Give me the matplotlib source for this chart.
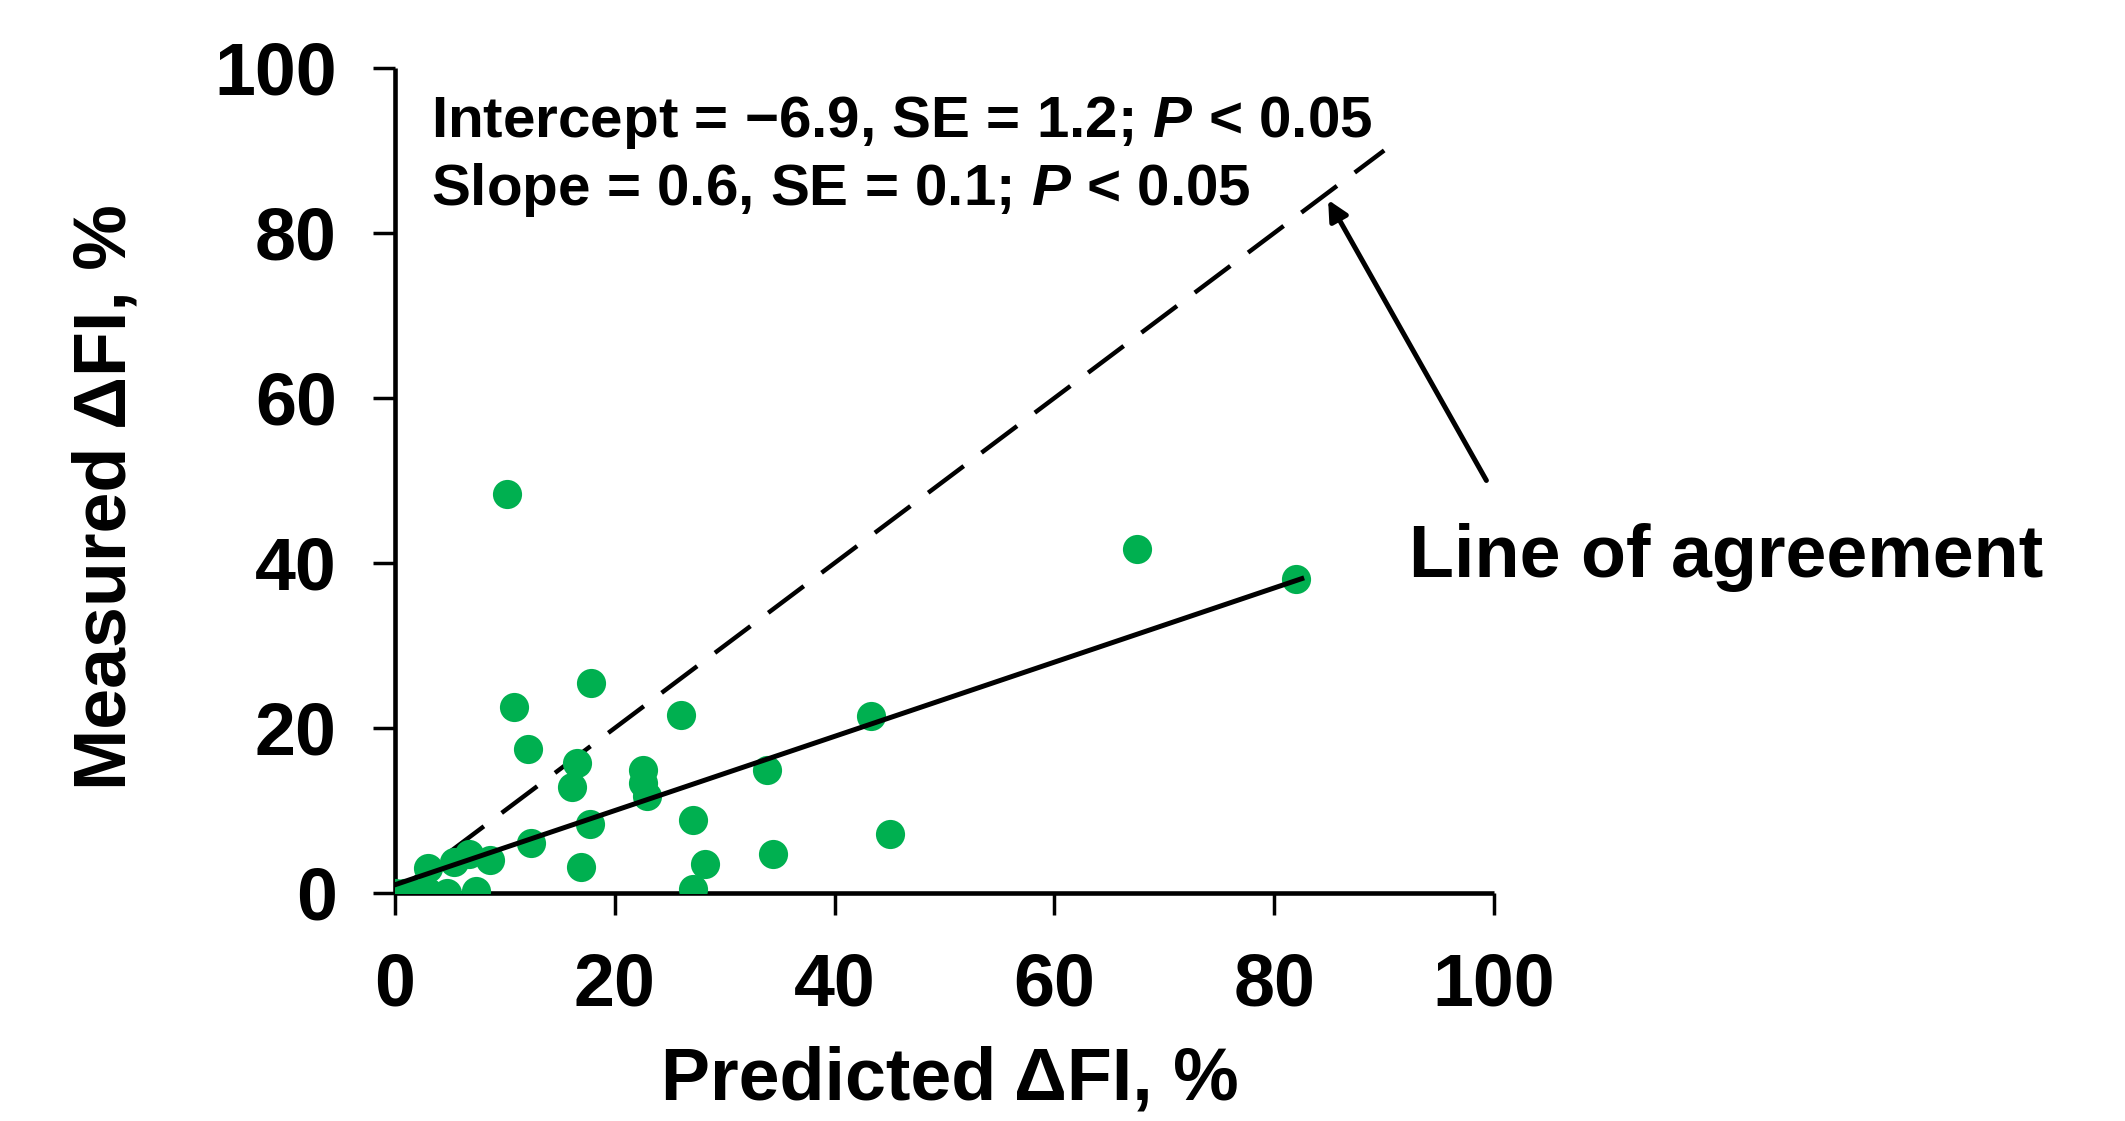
import matplotlib
matplotlib.use('Agg')
import matplotlib.pyplot as plt

# Predicted vs measured change in FI (%)
predicted = [0.0, 0.8, 1.8, 3.0, 4.7, 7.4, 3.0, 5.4, 6.7, 8.6,
             10.2, 10.8, 12.1, 12.4, 16.1, 16.6, 16.9, 17.7, 17.8,
             22.6, 22.6, 22.9, 26.0, 27.1, 27.1, 28.2, 33.8, 34.4,
             43.3, 45.0, 67.5, 82.0]
measured = [0.0, 0.0, 0.0, 0.1, 0.0, 0.2, 3.0, 3.8, 4.7, 4.0,
            48.3, 22.5, 17.5, 6.0, 12.8, 15.7, 3.2, 8.4, 25.4,
            14.9, 13.3, 11.7, 21.6, 8.8, 0.5, 3.5, 14.9, 4.7,
            21.5, 7.2, 41.7, 38.1]

# fitted line (end points) and line of agreement
fit_x = [0.0, 82.5]
fit_y = [1.0, 38.1]
agree_x = [0.0, 90.0]
agree_y = [0.0, 90.0]

ticks = [0, 20, 40, 60, 80, 100]

plt.rcParams['font.family'] = ['Liberation Sans', 'DejaVu Sans']
plt.rcParams['font.weight'] = 'bold'
plt.rcParams['mathtext.fontset'] = 'custom'
plt.rcParams['mathtext.it'] = 'Liberation Sans:bold:italic'
plt.rcParams['mathtext.rm'] = 'Liberation Sans:bold'

fig = plt.figure(figsize=(21.25, 11.21), dpi=100)
ax = fig.add_axes([0.1859, 0.2034, 0.5172, 0.736])

# line of agreement (dashed)
agree, = ax.plot(agree_x, agree_y, color='black', lw=3.2, zorder=2)
agree.set_dashes((10, 5))

ax.plot(predicted, measured, 'o', color='#00B050', markersize=21,
        markeredgewidth=0, zorder=3)
ax.plot(fit_x, fit_y, color='black', lw=3.6, zorder=4)

ax.set_xlim(0, 100)
ax.set_ylim(0, 100)
ax.set_xticks(ticks)
ax.set_yticks(ticks)
ax.tick_params(axis='both', direction='out', length=16, width=2.5,
               labelsize=53, pad=26)
for side in ['top', 'right']:
    ax.spines[side].set_visible(False)
for side in ['left', 'bottom']:
    ax.spines[side].set_linewidth(3.3)
    ax.spines[side].set_capstyle('butt')

fig.text(950 / 2125, 1 - 1080 / 1121, 'Predicted ΔFI, %', fontsize=53,
         fontweight='bold', ha='center', va='center')
fig.text(106 / 2125, 1 - 497 / 1121, 'Measured ΔFI, %', fontsize=53,
         fontweight='bold', ha='center', va='center', rotation=90)

# regression stats
ax.text(3.3, 91.6, 'Intercept = \u22126.9, SE = 1.2; $P$ < 0.05',
        fontsize=42, fontweight='bold', va='baseline', ha='left')
ax.text(3.3, 83.4, 'Slope = 0.6, SE = 0.1; $P$ < 0.05',
        fontsize=42, fontweight='bold', va='baseline', ha='left')

# arrow pointing to the dashed line
ax.annotate('', xy=(84.9, 84.0), xytext=(99.3, 50.0),
            arrowprops=dict(arrowstyle='-|>', color='black', lw=3.6,
                            mutation_scale=30, shrinkA=0, shrinkB=0),
            annotation_clip=False)
ax.text(121.1, 38.3, 'Line of agreement', fontsize=53, fontweight='bold',
        ha='center', va='baseline', clip_on=False)

fig.savefig('out.png', dpi=100)
